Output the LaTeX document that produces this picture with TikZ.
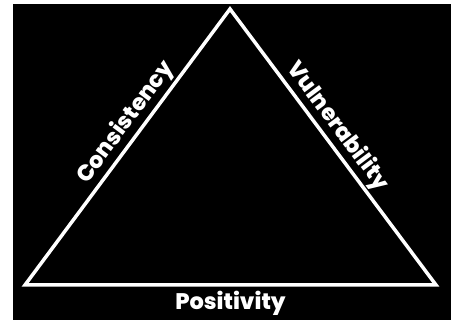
\documentclass[tikz,border=0pt]{standalone}
\usepackage{fontspec}
\setmainfont{Poppins}[BoldFont=Poppins ExtraBold]
\tikzset{
	side/.style={font=\fontsize{22.5}{26}\selectfont\bfseries,text=white,inner sep=2pt},
}
\begin{document}
\begin{tikzpicture}[x=1pt,y=1pt]
	\useasboundingbox (0,0) rectangle (451,320);
	\fill[black] (13,0) rectangle (451,316);
	% corners of the triangle
	\coordinate (top)   at (230,311);
	\coordinate (left)  at (25,35);
	\coordinate (right) at (436,35);
	\draw[white,line width=3.5pt,line join=miter]
		(left) -- node[side,sloped,above,pos=0.555] (cons) {Consistency}
		(top) -- node[side,sloped,above,pos=0.46] (vuln) {Vulnerability}
		(right) -- node[side,below,yshift=-2pt] (posi) {Positivity}
		(left) -- cycle;
\end{tikzpicture}
\end{document}
